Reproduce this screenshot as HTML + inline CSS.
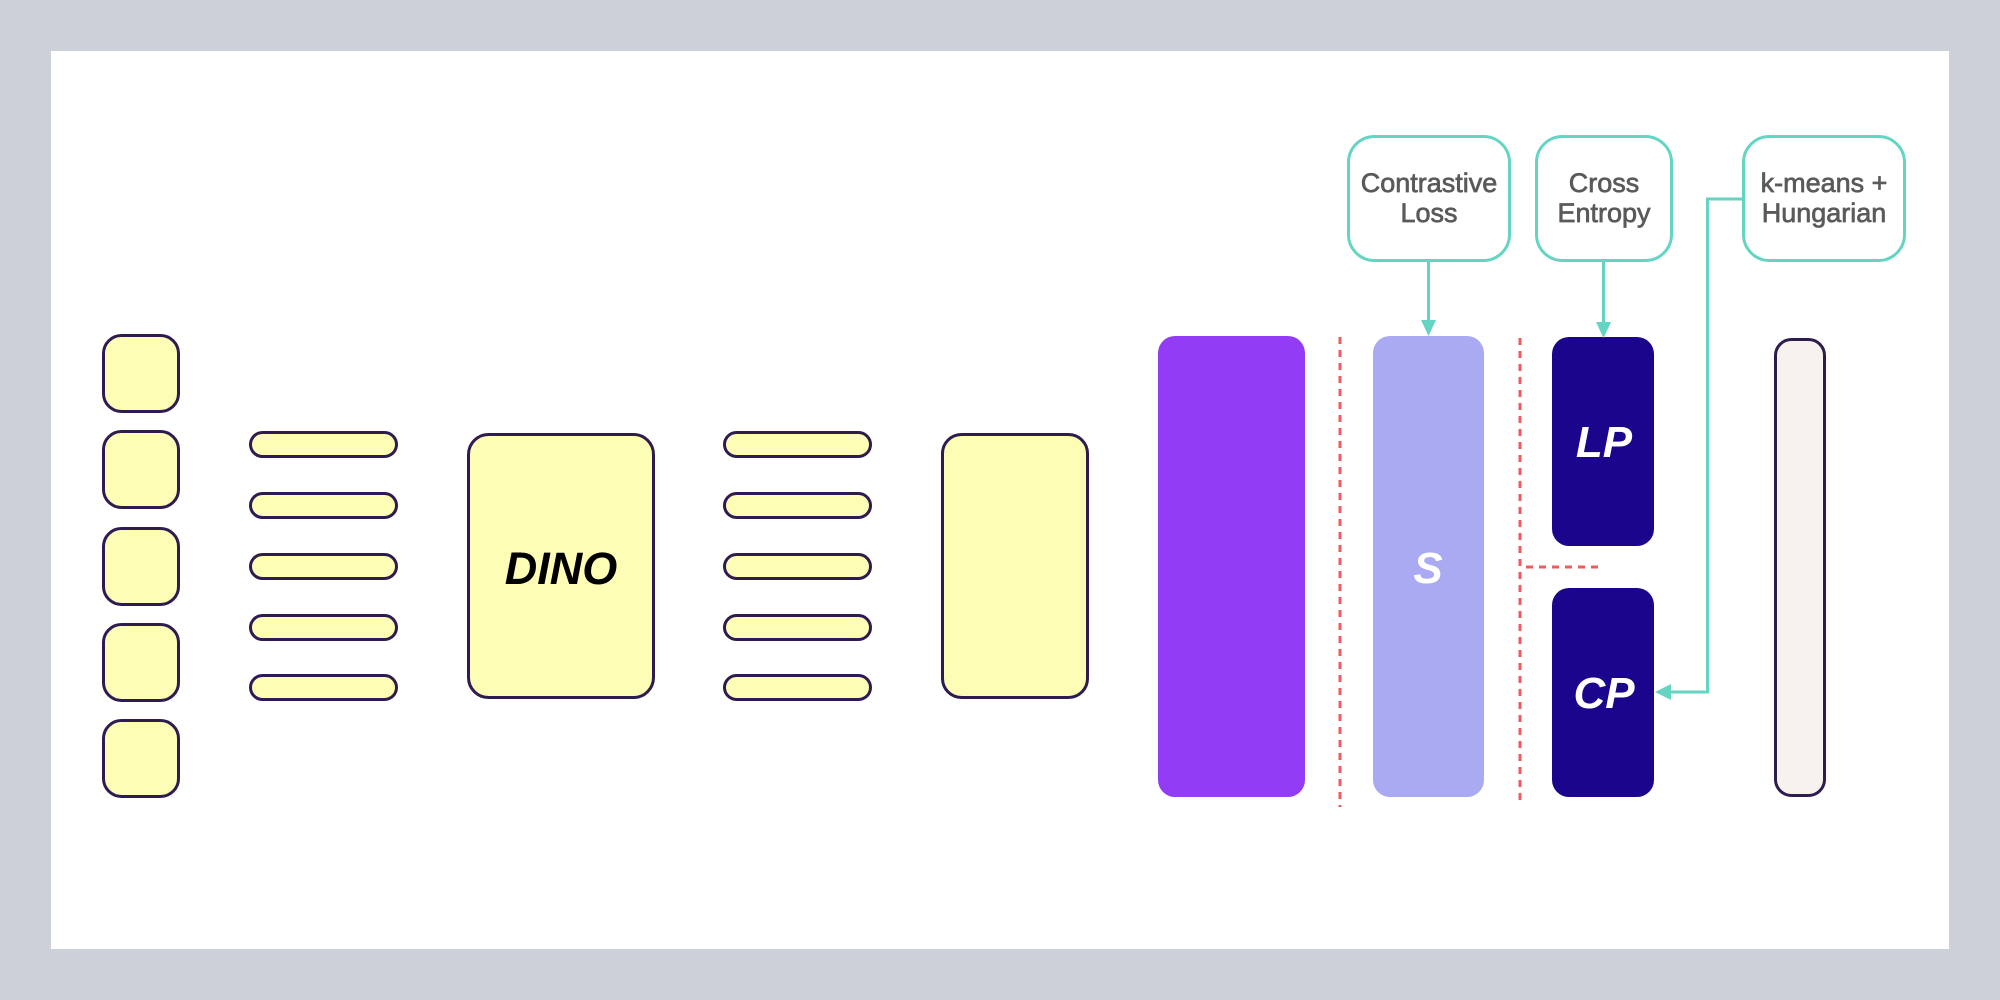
<!DOCTYPE html>
<html>
<head>
<meta charset="utf-8">
<style>
  html,body{margin:0;padding:0;background:#ccd0d9;}
  body{width:2000px;height:1000px;overflow:hidden;}
  svg{display:block;}
  .t{font-family:"Liberation Sans",Arial,sans-serif;}
</style>
</head>
<body>
<svg width="2000" height="1000" viewBox="0 0 2000 1000" xmlns="http://www.w3.org/2000/svg">
  <rect x="0" y="0" width="2000" height="1000" fill="#ccd0d9"/>
  <rect x="51" y="51" width="1898" height="898" fill="#ffffff"/>

  <!-- left squares -->
  <g fill="#fdfdb6" stroke="#2e1b4f" stroke-width="3">
    <rect x="103.5" y="335.5" width="75" height="76" rx="18"/>
    <rect x="103.5" y="431.5" width="75" height="76" rx="18"/>
    <rect x="103.5" y="528.5" width="75" height="76" rx="18"/>
    <rect x="103.5" y="624.5" width="75" height="76" rx="18"/>
    <rect x="103.5" y="720.5" width="75" height="76" rx="18"/>

    <!-- bars set 1 -->
    <rect x="250.5" y="432.5" width="146" height="24" rx="12"/>
    <rect x="250.5" y="493.5" width="146" height="24" rx="12"/>
    <rect x="250.5" y="554.5" width="146" height="24" rx="12"/>
    <rect x="250.5" y="615.5" width="146" height="24" rx="12"/>
    <rect x="250.5" y="675.5" width="146" height="24" rx="12"/>

    <!-- DINO box -->
    <rect x="468.5" y="434.5" width="185" height="263" rx="20"/>

    <!-- bars set 2 -->
    <rect x="724.5" y="432.5" width="146" height="24" rx="12"/>
    <rect x="724.5" y="493.5" width="146" height="24" rx="12"/>
    <rect x="724.5" y="554.5" width="146" height="24" rx="12"/>
    <rect x="724.5" y="615.5" width="146" height="24" rx="12"/>
    <rect x="724.5" y="675.5" width="146" height="24" rx="12"/>

    <!-- second yellow box -->
    <rect x="942.5" y="434.5" width="145" height="263" rx="19"/>
  </g>

  <text class="t" x="561" y="584" font-size="45" font-weight="bold" font-style="italic" text-anchor="middle" fill="#000">DINO</text>

  <!-- purple box -->
  <rect x="1158" y="336" width="147" height="461" rx="17" fill="#933cf5"/>

  <!-- red dashed lines -->
  <g stroke="#f25a60" stroke-width="3" stroke-dasharray="7 6" fill="none">
    <line x1="1340" y1="337" x2="1340" y2="807"/>
    <line x1="1520" y1="338" x2="1520" y2="803"/>
    <line x1="1526" y1="567" x2="1600" y2="567"/>
  </g>

  <!-- S box -->
  <rect x="1373" y="336" width="111" height="461" rx="17" fill="#aaaaf2"/>
  <text class="t" x="1428" y="583" font-size="44" font-weight="bold" font-style="italic" text-anchor="middle" fill="#ffffff">S</text>

  <!-- LP / CP -->
  <rect x="1552" y="337" width="102" height="209" rx="17" fill="#1b058c"/>
  <text class="t" x="1604" y="457" font-size="44" font-weight="bold" font-style="italic" text-anchor="middle" fill="#ffffff">LP</text>
  <rect x="1552" y="588" width="102" height="209" rx="17" fill="#1b058c"/>
  <text class="t" x="1604" y="708" font-size="44" font-weight="bold" font-style="italic" text-anchor="middle" fill="#ffffff">CP</text>

  <!-- final box -->
  <rect x="1775.5" y="339.5" width="49" height="456" rx="16" fill="#f6f3ee" stroke="#2e1b4f" stroke-width="3"/>

  <!-- teal boxes -->
  <g fill="#ffffff" stroke="#64d5c2" stroke-width="3">
    <rect x="1348.5" y="136.5" width="161" height="124" rx="26"/>
    <rect x="1536.5" y="136.5" width="135" height="124" rx="26"/>
    <rect x="1743.5" y="136.5" width="161" height="124" rx="26"/>
  </g>
  <g class="t" font-size="27" fill="#5a5a5a" stroke="#5a5a5a" stroke-width="0.7" text-anchor="middle">
    <text x="1429" y="192">Contrastive</text>
    <text x="1429" y="222">Loss</text>
    <text x="1604" y="192">Cross</text>
    <text x="1604" y="222">Entropy</text>
    <text x="1824" y="192">k-means +</text>
    <text x="1824" y="222">Hungarian</text>
  </g>

  <!-- teal connectors -->
  <g stroke="#64d5c2" stroke-width="3" fill="none">
    <line x1="1428.5" y1="262" x2="1428.5" y2="322"/>
    <line x1="1603.5" y1="262" x2="1603.5" y2="324"/>
    <polyline points="1743,199 1707.5,199 1707.5,692 1668,692"/>
  </g>
  <g fill="#64d5c2">
    <polygon points="1421,320 1436,320 1428.5,336"/>
    <polygon points="1596,322 1611,322 1603.5,338"/>
    <polygon points="1671,684 1671,700 1655,692"/>
  </g>
</svg>
</body>
</html>
